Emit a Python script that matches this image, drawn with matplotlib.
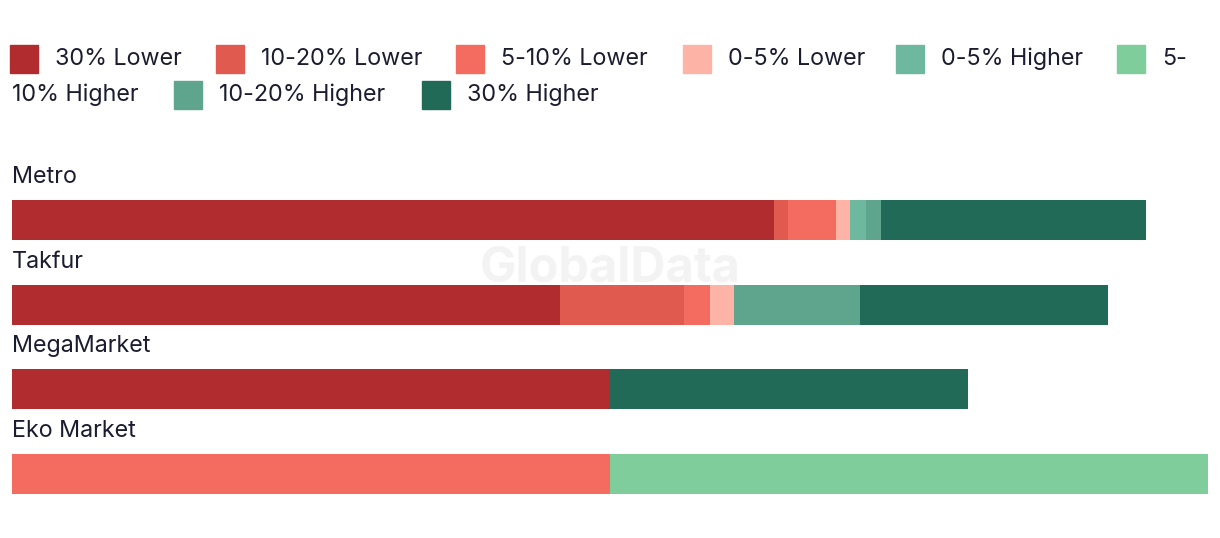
import matplotlib
matplotlib.use('Agg')
import matplotlib.pyplot as plt
from matplotlib.patches import Rectangle

plt.rcParams['font.family'] = ['Inter', 'DejaVu Sans']

stores = ["Metro", "Takfur", "MegaMarket", "Eko Market"]
bands = ["30% Lower", "10-20% Lower", "5-10% Lower", "0-5% Lower",
         "0-5% Higher", "5-10% Higher", "10-20% Higher", "30% Higher"]
colors = ["#b02c2e", "#e05a4f", "#f46c60", "#fdb3a5",
          "#6fb8a0", "#7ecd9b", "#5fa58e", "#216a57"]
# share of products per price band (%), one list per band, order = stores
lower30 = [63.7, 45.8, 50.0, 0]
lower10_20 = [1.2, 10.4, 0, 0]
lower5_10 = [4.0, 2.2, 0, 50.0]
lower0_5 = [1.2, 2.0, 0, 0]
higher0_5 = [1.3, 0, 0, 0]
higher5_10 = [0, 0, 0, 50.0]
higher10_20 = [1.3, 10.5, 0, 0]
higher30 = [22.1, 20.7, 29.9, 0]
series = [lower30, lower10_20, lower5_10, lower0_5,
          higher0_5, higher5_10, higher10_20, higher30]

W, H = 1220, 538
fig = plt.figure(figsize=(W / 100, H / 100), dpi=100)
ax = fig.add_axes([12 / W, 0, 1196 / W, 1])
ax.set_xlim(0, 100)
ax.set_ylim(H, 0)
ax.axis('off')

txt = "#1c1c30"
fs = 16.8

# watermark
ax.text(50, 268, "GlobalData", ha='center', va='center', fontsize=35,
        fontweight='bold', color='#f3f3f3', zorder=0)

ys = [220 + i * 84.7 for i in range(len(stores))]
left = [0] * len(stores)
for vals, c, b in zip(series, colors, bands):
    ax.barh(ys, vals, left=left, height=40, color=c, linewidth=0, zorder=2)
    left = [l + v for l, v in zip(left, vals)]
for y, s in zip(ys, stores):
    ax.text(0, y - 43, s, ha='left', va='center', fontsize=fs, color=txt)

# legend laid out like the wrapped html legend
items = [(10, 59, 0, "30% Lower"), (216, 59, 1, "10-20% Lower"),
         (456, 59, 2, "5-10% Lower"), (683, 59, 3, "0-5% Lower"),
         (896, 59, 4, "0-5% Higher"), (1117, 59, 5, "5-"),
         (174, 95, 6, "10-20% Higher"), (422, 95, 7, "30% Higher")]
for x, y, i, lab in items:
    fig.patches.append(Rectangle(((x) / W, 1 - (y + 14) / H), 28 / W, 28 / H,
                                 transform=fig.transFigure, color=colors[i]))
    fig.text((x + 45) / W, 1 - y / H, lab, ha='left', va='center',
             fontsize=fs, color=txt)
fig.text(12 / W, 1 - 95 / H, "10% Higher", ha='left', va='center',
         fontsize=fs, color=txt)

fig.savefig("out.png", dpi=100)
